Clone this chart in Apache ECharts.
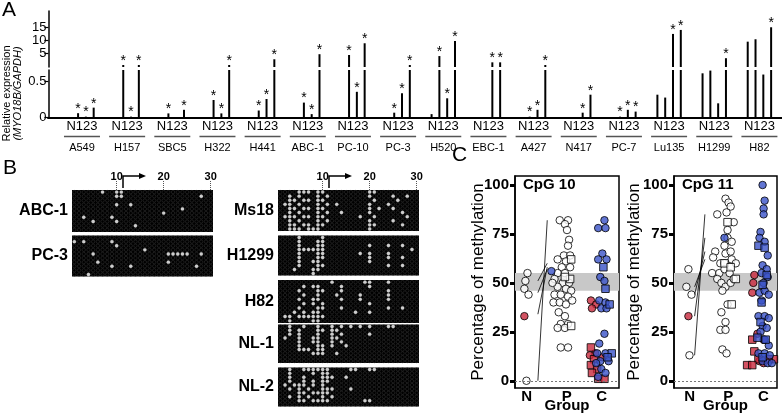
<!DOCTYPE html>
<html><head><meta charset="utf-8">
<script src="https://cdn.jsdelivr.net/npm/echarts@6/dist/echarts.min.js"></script>
<style>html,body{margin:0;padding:0;background:#fff}#c{width:782px;height:415px}</style>
</head><body><div id="c"></div><script>
// ---------- Panel A data ----------
const cellLines = ['A549','H157','SBC5','H322','H441','ABC-1','PC-10','PC-3','H520','EBC-1','A427','N417','PC-7','Lu135','H1299','H82'];
const exprN = [0,0,0,0,0,0,0,0,0.04,0,0,0,0,0.31,0.607,9.5];
const expr1 = [0.053,0.75,0.05,0.236,0.09,0.2,4.5,0.06,4.1,0,0.005,0,0.005,0.27,0.645,10.4];
const expr2 = [0.005,0.005,0,0.05,0.25,0.04,0.35,0.33,0.26,1.75,0.1,0.06,0.1,12.4,0.19,0.59];
const expr3 = [0.13,0.75,0.1,0.75,2.9,4.8,8.9,0.75,9.75,1.75,0.75,0.31,0.075,13.9,3.3,14.9];
const sigN = [0,0,0,0,0,0,0,0,0,0,0,0,0,0,0,0];
const sig1 = [1,1,1,1,1,1,1,1,1,0,1,0,1,0,0,0];
const sig2 = [1,1,0,1,1,1,1,1,1,1,1,1,1,1,0,0];
const sig3 = [1,1,1,1,1,1,1,1,1,1,1,1,1,1,1,1];
const lowerTicks = [0, 0.5];
const upperTicks = [5, 10, 15];
const LOWER_MAX = 0.653;

// ---------- Panel B data (unmethylated CpG sites per clone row) ----------
const bSamples = ['ABC-1','PC-3','Ms18','H1299','H82','NL-1','NL-2'];
const bColTicks = [10, 20, 30];
const bRows = 10;
const unmeth = {
  'ABC-1': [[7,10,11],[10,11,28],[],[10,13],[24],[20],[3,9],[5,10],[14],[]],
  'PC-3':  [[],[1,3,9],[10],[16],[5,21,22,23,24,25,28],[],[6,21],[9,13,27],[],[4]],
  'Ms18':  [[5,6,7,9,10,20,21],[3,5,9,11,20,25,28],[3,4,6,7,9,10,21,26],[2,3,5,9,11,13,20,24],[3,4,6,7,9,10,20,22,25],[3,5,9,11,14,20,27],[2,3,4,6,7,9,10,18,21,28],[3,5,9,11,20,25],[3,4,6,7,9,10,20,21,27],[3,4,5,7,8,9,20]],
  'H1299': [[5,10],[5,9,10],[5,9,10,20,24,27],[5,6,7,8,9,10,29],[5,9,10,18,20,24],[5,9,10,20,24,27],[5,8,9,20],[5,9,10,24,27],[4,8,9],[8]],
  'H82':   [[12,19,20,24],[6,8,9,14,20],[5,9,10,14,24],[6,9,13,18,24],[5,8,9,14,18,24],[6,8,10,20],[5,9,10,14,24,27],[4,6,8,9,17,20],[2,3,5,6,7,8,9,10],[3,8,9]],
  'NL-1':  [[3,6,9,12,14,16,18,20,24,25],[3,5,9,10,12,13],[3,5,9,12,14,20],[2,5,8,9,12,13],[5,8,9,12,14],[5,9,10,12,15],[5,6,7,9,10],[8,9,10,13],[],[]],
  'NL-2':  [[3,6,7,8,9,10,11,16,17,20,21],[3,8,10,11],[3,6,10,11,12,15],[3,6,8,10,11],[2,4,5,6,8,10],[3,5,7,10,11,12,16],[5,6,8,9,10,11],[3,5,7,10,12],[5,6,8,9,10,11,19,20],[]]
};

// ---------- Panel C data: [x-position within box (0-100), % methylation] ----------
const cpg10 = {
  openCircle: [[12,55],[10,51],[9,47],[13,44],[11,0],[43,82],[51,82],[48,80],[50,77],[52,72],[51,69],[47,64],[53,64],[41,62],[49,61],[45,58],[53,58],[41,55],[48,55],[38,52],[46,50],[52,50],[41,48],[49,47],[54,46],[38,44],[44,44],[51,43],[37,40],[43,40],[49,39],[55,41],[42,35],[48,33],[44,29],[51,29],[41,27],[48,27],[44,17],[51,17],[36,50]],
  openSquare: [[54,62],[53,52],[48,53],[54,28]],
  redCircle: [[9,33],[73,41],[78,39],[74,37],[77,14],[72,13],[84,12]],
  blueCircle: [[35,56],[86,82],[80,78],[87,78],[84,65],[80,62],[88,62],[82,53],[86,51],[81,41],[87,40],[83,37],[88,37],[86,24],[81,19],[79,14],[87,14],[82,10],[90,10],[78,9],[83,6],[87,4],[80,2]],
  redSquare: [[73,17],[76,11],[73,8],[79,6],[74,4],[80,1],[86,1]],
  blueSquare: [[85,58],[87,47],[91,39],[93,14],[89,12]]
};
const cpg11 = {
  openCircle: [[14,57],[12,48],[17,44],[15,13],[42,85],[50,93],[53,91],[55,89],[51,86],[58,81],[52,77],[52,73],[56,71],[49,69],[40,66],[50,65],[56,62],[38,63],[45,60],[49,60],[37,55],[44,55],[49,57],[54,55],[42,52],[46,50],[50,48],[55,50],[47,46],[52,39],[46,35],[50,30],[45,26],[50,26],[47,16],[51,14],[58,52],[60,60],[55,66]],
  openSquare: [[52,81],[49,60],[55,58],[60,52],[56,39]],
  redCircle: [[14,33],[78,54],[77,50],[76,45],[81,24],[87,21],[83,10],[87,9]],
  blueCircle: [[49,73],[86,100],[88,92],[87,88],[87,85],[84,76],[83,73],[88,71],[91,64],[86,59],[90,57],[85,55],[91,53],[87,50],[83,45],[88,46],[92,44],[85,41],[82,33],[88,33],[92,32],[86,28],[90,27],[84,25],[88,21],[92,18],[82,14],[88,14],[93,13],[86,10],[91,9],[95,9]],
  redSquare: [[76,21],[78,15],[82,11],[71,8],[76,8],[97,11],[92,11]],
  blueSquare: [[82,69],[88,68],[90,54],[86,49],[85,40],[84,30],[81,22],[89,21],[86,12]]
};
// paired N -> P connector lines: [N value, P value]
const cpg10Pairs = [[0, 82], [34, 58], [45, 57], [51, 60]];
const cpg11Pairs = [[13, 85], [33, 73], [44, 66], [48, 62]];
const cTicks = [0, 25, 50, 75, 100];
const cGroups = {cpg10: [11.3, 49.7, 83.4], cpg11: [15.3, 52.6, 86.7]};
const cGroupNames = ['N', 'P', 'C'];
const cBand = [46, 55];

// ---------- build option ----------
const FONT = 'Liberation Sans';
const grids = [], xAxes = [], yAxes = [], series = [];
function addGrid(g){ g.outerBoundsMode = 'none'; g.containLabel = false; grids.push(g); return grids.length - 1; }

// Panel A
const gU = addGrid({left: 59.4, width: 722.6, top: 11, height: 56});
const gL = addGrid({left: 59.4, width: 722.6, top: 70, height: 47});
const gB = addGrid({left: 48, right: 0, top: 116.5, height: 1});
xAxes.push({gridIndex: gU, type: 'category', data: cellLines, show: false});
xAxes.push({gridIndex: gL, type: 'category', data: cellLines, axisLine: {show: false}, axisTick: {show: false},
  axisLabel: {interval: 0, margin: 3, color: '#000', fontFamily: FONT,
    formatter: v => '{a|N123}\n{u| }\n{b|' + v + '}',
    rich: {a: {fontSize: 13, lineHeight: 13, fontFamily: FONT, color: '#000'},
           u: {width: 36, height: 1.5, backgroundColor: '#555', lineHeight: 7, fontSize: 1},
           b: {fontSize: 11, lineHeight: 15, fontFamily: FONT, color: '#000'}}}});
xAxes.push({gridIndex: gB, type: 'value', min: 0, max: 1, axisLine: {show: true, lineStyle: {color: '#000', width: 2}}, axisTick: {show: false}, axisLabel: {show: false}, splitLine: {show: false}});
yAxes.push({gridIndex: gU, type: 'value', min: 0, max: 21, offset: 11, splitLine: {show: false},
  axisLine: {show: true, lineStyle: {color: '#000', width: 1.5}},
  axisTick: {show: true, customValues: upperTicks, length: 4, lineStyle: {color: '#000', width: 1.2}},
  axisLabel: {customValues: upperTicks, margin: 2, fontSize: 13, color: '#000', fontFamily: FONT}});
yAxes.push({gridIndex: gL, type: 'value', min: 0, max: LOWER_MAX, offset: 11, splitLine: {show: false},
  axisLine: {show: true, lineStyle: {color: '#000', width: 1.5}},
  axisTick: {show: true, customValues: lowerTicks, length: 4, lineStyle: {color: '#000', width: 1.2}},
  axisLabel: {customValues: lowerTicks, margin: 2, fontSize: 13, color: '#000', fontFamily: FONT, formatter: v => String(v)},
  name: '{r|Relative expression}\n{i|(MYO18B/GAPDH)}', nameLocation: 'middle', nameGap: 25, nameRotate: 90, nameMoveOverlap: false,
  nameTextStyle: {rich: {r: {fontSize: 11, fontFamily: FONT, color: '#000', lineHeight: 11}, i: {fontSize: 11, fontStyle: 'italic', fontFamily: FONT, color: '#000', lineHeight: 11}}}});
yAxes.push({gridIndex: gB, type: 'value', show: false});

const exprSets = [[exprN, sigN], [expr1, sig1], [expr2, sig2], [expr3, sig3]];
const starLabel = (sig, upper) => ({show: true, position: 'top', distance: -3, fontSize: 14, color: '#000', fontFamily: FONT,
  formatter: p => (sig[p.dataIndex] && (upper ? p.value > LOWER_MAX : p.value <= LOWER_MAX)) ? '*' : ''});
exprSets.forEach(([vals, sig]) => {
  series.push({type: 'bar', xAxisIndex: 1, yAxisIndex: 1, data: vals, barWidth: 2, barGap: '290%', clip: true,
    itemStyle: {color: '#000'}, label: starLabel(sig, false), silent: true});
});
exprSets.forEach(([vals, sig]) => {
  series.push({type: 'bar', xAxisIndex: 0, yAxisIndex: 0, data: vals.map(v => v > LOWER_MAX ? v : '-'), barWidth: 2, barGap: '290%',
    itemStyle: {color: '#000'}, label: starLabel(sig, true), silent: true});
});

// Panel B
const bLayout = {
  'ABC-1': {left: 72, top: 190, width: 141, height: 42},
  'PC-3': {left: 72, top: 235.5, width: 141, height: 41},
  'Ms18': {left: 278, top: 190, width: 141, height: 41},
  'H1299': {left: 278, top: 235.5, width: 141, height: 40},
  'H82': {left: 278, top: 280, width: 141, height: 43},
  'NL-1': {left: 278, top: 324.5, width: 141, height: 38.5},
  'NL-2': {left: 278, top: 367.5, width: 141, height: 39}
};
bSamples.forEach((s) => {
  const L = bLayout[s];
  const gi = addGrid({left: L.left, top: L.top, width: L.width, height: L.height, show: true, backgroundColor: '#000', borderWidth: 0});
  const header = (s === 'ABC-1' || s === 'Ms18');
  xAxes.push({gridIndex: gi, type: 'value', min: 0.5, max: 30.5, position: 'top', splitLine: {show: false},
    axisLine: {show: false},
    axisTick: {show: header, customValues: bColTicks, length: 9, lineStyle: {color: '#555', width: 1, type: [1, 1]}},
    axisLabel: {show: header, customValues: bColTicks, margin: 8, fontSize: 11, fontWeight: 'bold', color: '#000', fontFamily: FONT}});
  const xi = xAxes.length - 1;
  yAxes.push({gridIndex: gi, type: 'value', min: 0.5, max: bRows + 0.5, inverse: true, splitLine: {show: false},
    axisLine: {show: false}, axisTick: {show: false}, axisLabel: {show: false},
    name: s, nameLocation: 'middle', nameRotate: 0, nameGap: 4, nameMoveOverlap: false,
    nameTextStyle: {align: 'right', fontSize: 16, fontWeight: 'bold', color: '#000', fontFamily: FONT, letterSpacing: -0.8}});
  const yi = yAxes.length - 1;
  const meth = [], um = [];
  for (let r = 1; r <= bRows; r++) {
    const row = unmeth[s][r - 1];
    for (let c = 1; c <= 30; c++) (row.indexOf(c) >= 0 ? um : meth).push([c, r]);
  }
  series.push({type: 'scatter', xAxisIndex: xi, yAxisIndex: yi, data: meth, symbolSize: 3.4, silent: true,
    itemStyle: {color: '#000', borderColor: '#3c3c3c', borderWidth: 0.6}});
  series.push({type: 'scatter', xAxisIndex: xi, yAxisIndex: yi, data: um, symbolSize: 3.4, silent: true,
    itemStyle: {color: '#fff', borderColor: '#ddd', borderWidth: 0.3}});
});

// Panel C
const cLayout = {cpg10: {left: 515, top: 176, width: 104, height: 212, gap: 25, pairs: cpg10Pairs, lineX: [22, 31]},
                 cpg11: {left: 674, top: 176, width: 103, height: 212, gap: 28, pairs: cpg11Pairs, lineX: [20, 30]}};
const yMin = -3.7, yMax = 104.6;
const styles = {
  openCircle: {symbol: 'circle', color: '#fff'},
  openSquare: {symbol: 'rect', color: '#fff'},
  redCircle: {symbol: 'circle', color: '#c8283c'},
  redSquare: {symbol: 'rect', color: '#c8283c'},
  blueCircle: {symbol: 'circle', color: '#3a52c8'},
  blueSquare: {symbol: 'rect', color: '#3a52c8'}
};
[['cpg10', cpg10], ['cpg11', cpg11]].forEach(([key, data]) => {
  const L = cLayout[key];
  const gi = addGrid({left: L.left, top: L.top, width: L.width, height: L.height, show: true, borderColor: '#000', borderWidth: 1.5, backgroundColor: 'transparent'});
  xAxes.push({gridIndex: gi, type: 'value', min: 0, max: 100, splitLine: {show: false}, axisLine: {show: false}, axisTick: {show: false},
    axisLabel: {customValues: cGroups[key], margin: 1, fontSize: 15, fontWeight: 'bold', color: '#000', fontFamily: FONT,
      formatter: v => cGroupNames[cGroups[key].indexOf(v)]},
    name: 'Group', nameLocation: 'middle', nameGap: 10, nameMoveOverlap: false,
    nameTextStyle: {fontSize: 15, fontWeight: 'bold', color: '#000', fontFamily: FONT}});
  const xi = xAxes.length - 1;
  yAxes.push({gridIndex: gi, type: 'value', min: yMin, max: yMax, offset: 3, splitLine: {show: false},
    axisLine: {show: true, lineStyle: {color: '#000', width: 1.5}},
    axisTick: {show: true, customValues: cTicks, length: 5, lineStyle: {color: '#000', width: 3}},
    axisLabel: {customValues: cTicks, margin: 3, fontSize: 15, fontWeight: 'bold', color: '#000', fontFamily: FONT},
    name: 'Percentage of methylation', nameLocation: 'middle', nameGap: L.gap, nameMoveOverlap: false,
    nameTextStyle: {fontSize: 17, color: '#000', fontFamily: FONT}});
  const yi = yAxes.length - 1;
  series.push({type: 'line', xAxisIndex: xi, yAxisIndex: yi, data: [], silent: true,
    markArea: {silent: true, itemStyle: {color: '#c8c8c8'}, data: [[{yAxis: cBand[0]}, {yAxis: cBand[1]}]]},
    markLine: {silent: true, symbol: 'none', label: {show: false}, lineStyle: {color: '#777', type: [2, 2], width: 1}, data: [{yAxis: 0}]}});
  L.pairs.forEach(([a, b]) => {
    series.push({type: 'line', xAxisIndex: xi, yAxisIndex: yi, data: [[L.lineX[0], a], [L.lineX[1], b]], symbol: 'none', silent: true,
      lineStyle: {color: '#000', width: 0.8}});
  });
  Object.keys(styles).forEach(k => {
    const st = styles[k];
    series.push({type: 'scatter', xAxisIndex: xi, yAxisIndex: yi, data: data[k], symbol: st.symbol, symbolSize: 7.5, silent: true,
      itemStyle: {color: st.color, borderColor: '#000', borderWidth: 1}});
  });
});

const option = {
  animation: false,
  textStyle: {fontFamily: FONT},
  grid: grids, xAxis: xAxes, yAxis: yAxes, series: series,
  graphic: [
    {type: 'text', left: 2, top: 0, style: {text: 'A', fontSize: 21, fontFamily: FONT, fill: '#000'}},
    {type: 'text', left: 3, top: 158, style: {text: 'B', fontSize: 21, fontFamily: FONT, fill: '#000'}},
    {type: 'text', left: 452, top: 145, style: {text: 'C', fontSize: 21, fontFamily: FONT, fill: '#000'}},
    {type: 'text', left: 523, top: 177, style: {text: 'CpG 10', fontSize: 15, fontWeight: 'bold', fontFamily: FONT, fill: '#000'}},
    {type: 'text', left: 682, top: 177, style: {text: 'CpG 11', fontSize: 15, fontWeight: 'bold', fontFamily: FONT, fill: '#000'}},
    {type: 'polyline', shape: {points: [[123, 188], [123, 176], [140, 176]]}, style: {stroke: '#000', lineWidth: 1.5, fill: null}},
    {type: 'polygon', shape: {points: [[139, 173], [146, 176], [139, 179]]}, style: {fill: '#000'}},
    {type: 'polyline', shape: {points: [[329, 188], [329, 176], [346, 176]]}, style: {stroke: '#000', lineWidth: 1.5, fill: null}},
    {type: 'polygon', shape: {points: [[345, 173], [352, 176], [345, 179]]}, style: {fill: '#000'}}
  ]
};
echarts.init(document.getElementById('c'), null, {renderer: 'canvas'}).setOption(option);
</script></body></html>
